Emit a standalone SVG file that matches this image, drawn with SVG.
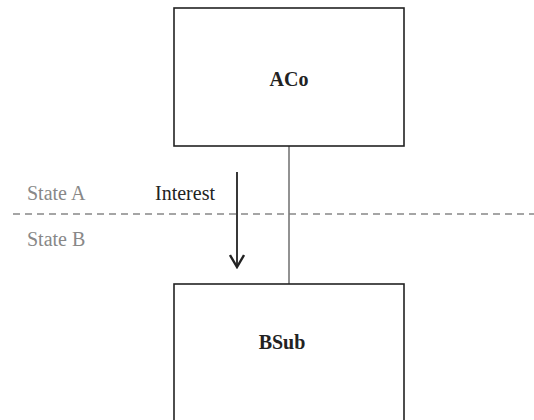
<svg xmlns="http://www.w3.org/2000/svg" width="534" height="420" viewBox="0 0 534 420">
  <style>
    .box { fill: #ffffff; stroke: #222222; stroke-width: 1.6; }
    .title { font-family: "Liberation Serif", "Times New Roman", serif; font-size: 20px; font-weight: bold; fill: #222222; text-anchor: middle; }
    .state { font-family: "Liberation Serif", "Times New Roman", serif; font-size: 20px; fill: #888888; }
    .label { font-family: "Liberation Serif", "Times New Roman", serif; font-size: 20px; fill: #222222; }
    .link { stroke: #777777; stroke-width: 1.6; fill: none; }
    .divider { stroke: #888888; stroke-width: 1.6; stroke-dasharray: 7 5; fill: none; }
    .flow { stroke: #222222; stroke-width: 1.8; fill: none; }
  </style>
  <defs>
    <marker id="chevron" viewBox="0 0 16 16" refX="14" refY="8" markerWidth="16" markerHeight="16" markerUnits="userSpaceOnUse" orient="auto">
      <path d="M2 1 L14 8 L2 15" fill="none" stroke="#222222" stroke-width="2.4"/>
    </marker>
  </defs>
  <rect width="534" height="420" fill="#ffffff"/>

  <!-- state boundary -->
  <line class="divider" x1="13" y1="214" x2="534" y2="214"/>
  <text class="state" x="27" y="200">State A</text>
  <text class="state" x="27" y="246">State B</text>

  <g id="connectors">
    <line class="link" x1="289" y1="146" x2="289" y2="284"/>
    <line class="flow" x1="237" y1="172" x2="237" y2="267" marker-end="url(#chevron)"/>
    <text class="label" x="155" y="200">Interest</text>
  </g>

  <g id="aco">
    <rect class="box" x="174" y="8" width="230" height="138"/>
    <text class="title" x="289" y="86">ACo</text>
  </g>

  <g id="bsub">
    <rect class="box" x="174" y="284" width="230" height="150"/>
    <text class="title" x="282" y="349">BSub</text>
  </g>
</svg>
